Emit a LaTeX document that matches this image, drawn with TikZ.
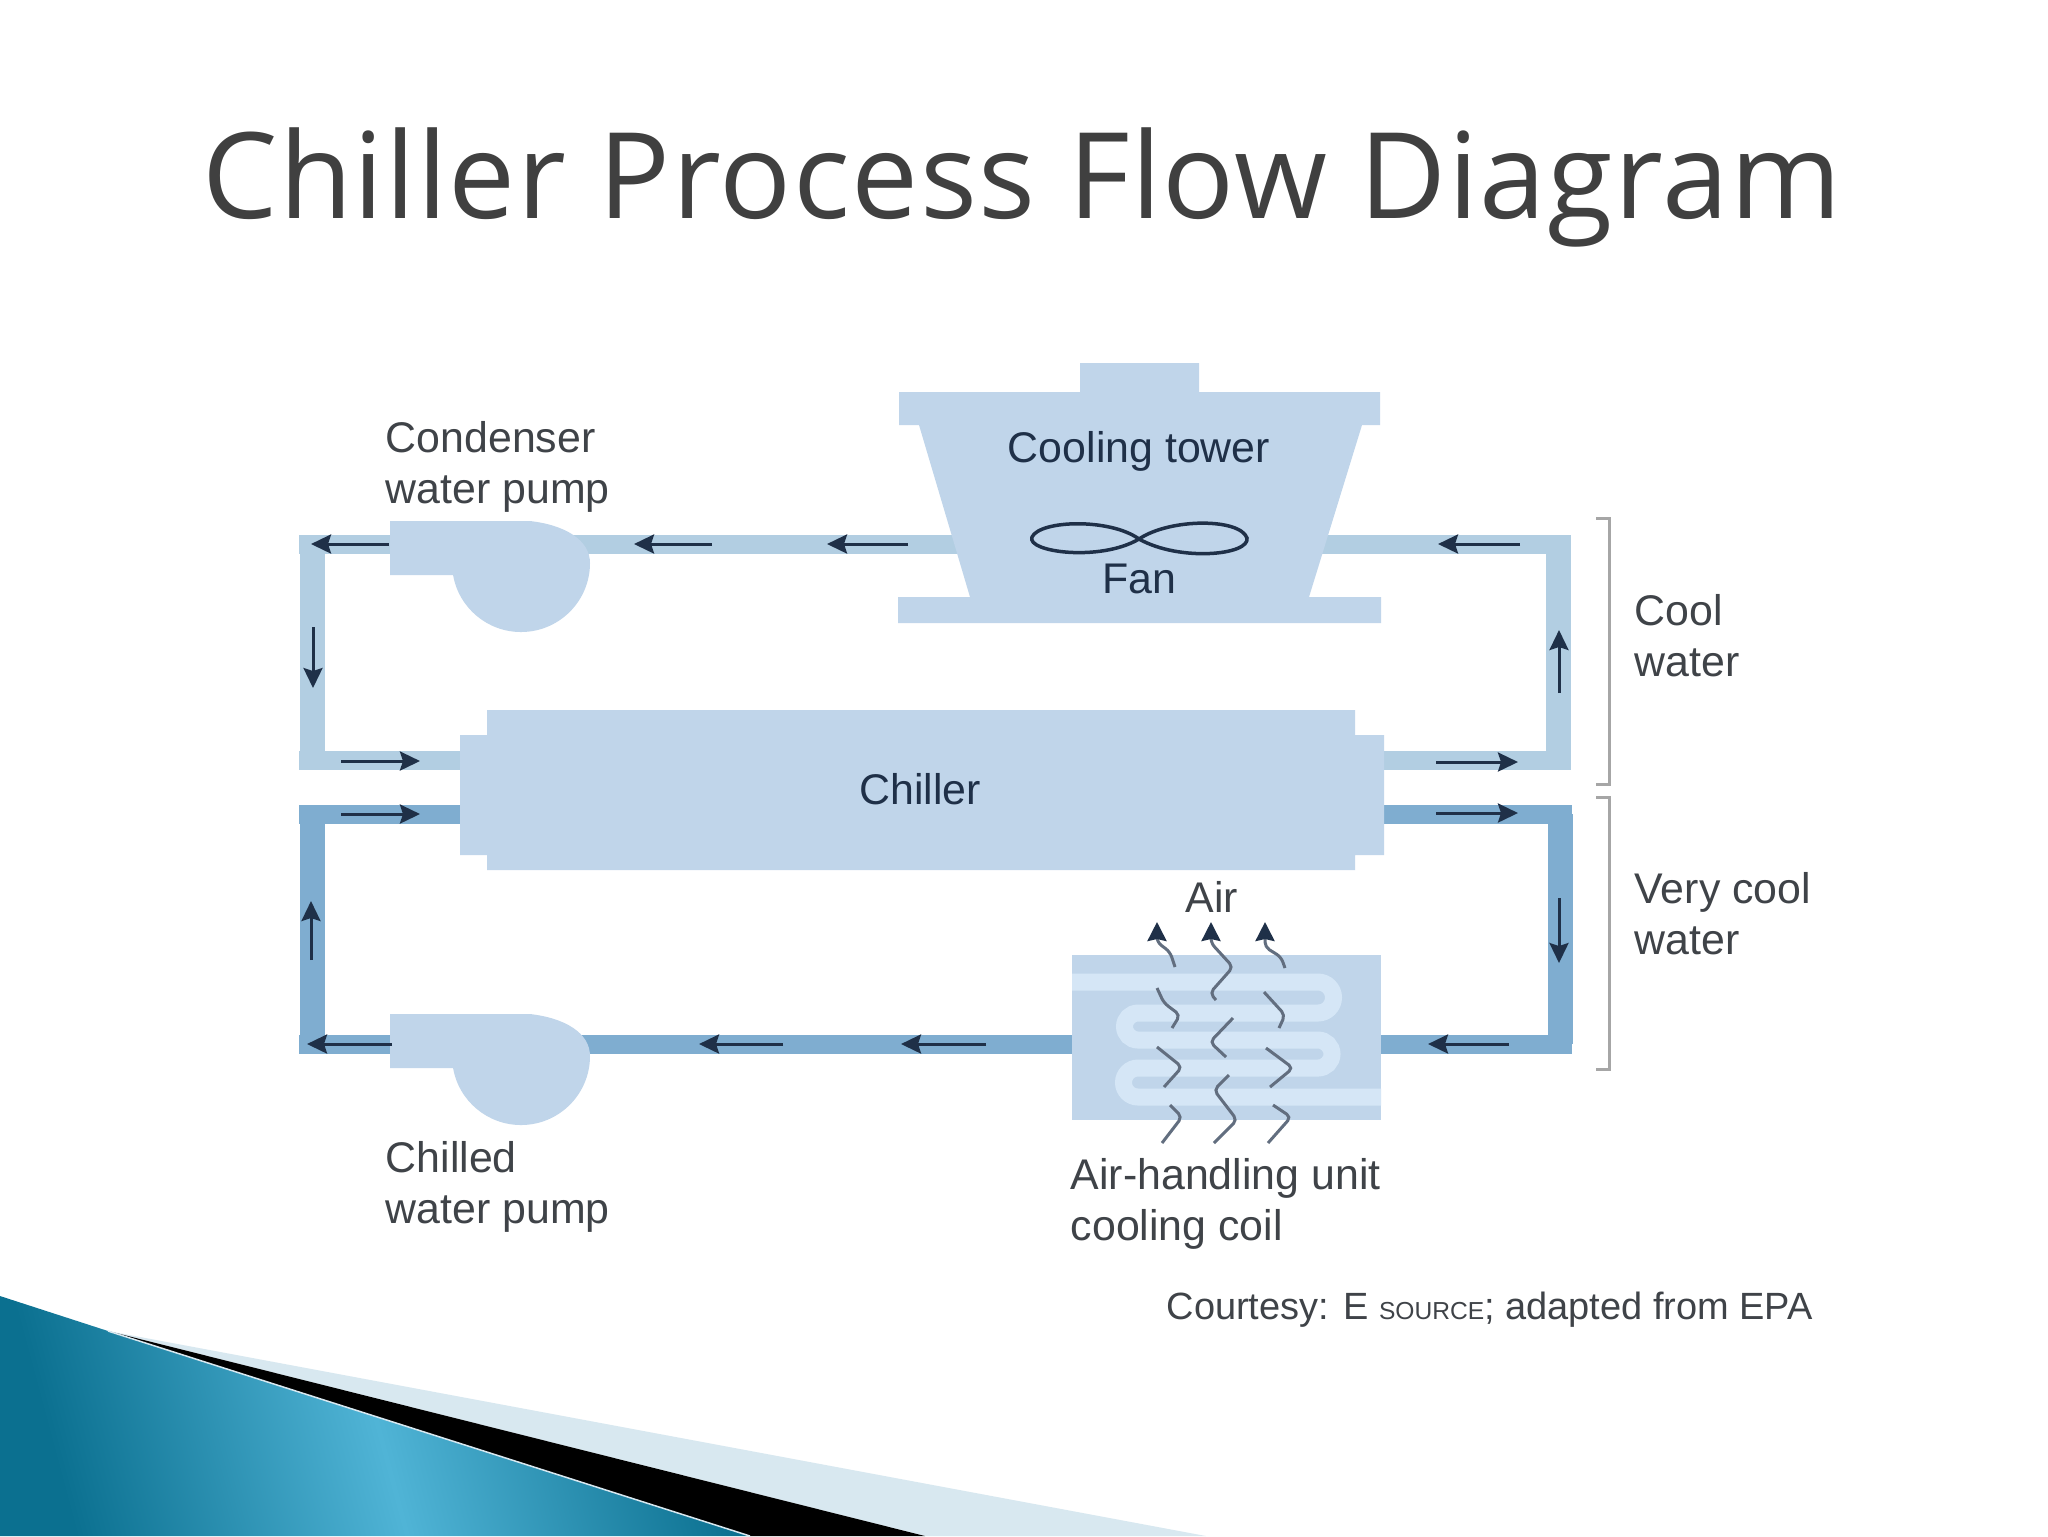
\documentclass[tikz,border=0pt]{standalone}
\usepackage{fontspec}
\setmainfont{Liberation Sans}
\newfontfamily\titlefont[LetterSpace=1.2]{Open Sans}
\usetikzlibrary{arrows.meta}
\definecolor{unitblue}{HTML}{C0D5EA}
\definecolor{coolblue}{HTML}{B2CEE2}
\definecolor{chillblue}{HTML}{7FADD0}
\definecolor{coilblue}{HTML}{D5E6F6}
\definecolor{flowdark}{HTML}{1F3048}
\definecolor{labeldark}{HTML}{3F4348}
\definecolor{tealdark}{HTML}{0B7090}
\definecolor{teallight}{HTML}{50B4D6}
\definecolor{wedgelight}{HTML}{D8E8F0}
\begin{document}
\begin{tikzpicture}[x=0.1mm,y=-0.1mm,
    unit/.style={fill=unitblue, draw=none},
    coolh/.style={draw=coolblue, line width=1.9mm},
    coolv/.style={draw=coolblue, line width=2.5mm},
    chillh/.style={draw=chillblue, line width=1.9mm},
    chillv/.style={draw=chillblue, line width=2.5mm},
    flow/.style={-{Stealth[length=2mm,width=1.9mm,inset=0.3mm]}, draw=flowdark, line width=0.3mm},
    air/.style={draw=flowdark!70, line width=0.3mm, rounded corners=0.5mm},
    airup/.style={air, -{Stealth[length=1.9mm,width=1.9mm,inset=0.2mm,color=flowdark]}},
    bracket/.style={draw=black!35, line width=0.3mm},
    lbl/.style={inner sep=0pt, text=labeldark, align=left, anchor=west, font=\fontsize{12.2}{14.5}\selectfont},
    inlbl/.style={inner sep=0pt, text=flowdark, font=\fontsize{12.2}{14.5}\selectfont}]

  \useasboundingbox (0,0) rectangle (2048,1536);
  \fill[white] (0,0) rectangle (2048,1536);

  % corner wedge
  \fill[wedgelight] (108,1331) -- (1206,1536) -- (925,1536) -- cycle;
  \fill[black] (108,1331) -- (925,1536) -- (750,1536) -- cycle;
  \shade[left color=tealdark, right color=tealdark, middle color=teallight, shading angle=105]
    (0,1296) -- (108,1331) -- (750,1536) -- (0,1536) -- cycle;
  \draw[wedgelight, line width=0.15mm] (108,1331) -- (750,1536);

  \node[inner sep=0pt, anchor=base, text=black!75, font=\titlefont\fontsize{34}{40}\selectfont] (title) at (1022,218) {Chiller Process Flow Diagram};

  % pipe corners
  \coordinate (cwtl) at (312,544);
  \coordinate (cwbl) at (312,760);
  \coordinate (cwtr) at (1558,544);
  \coordinate (cwbr) at (1558,760);
  \coordinate (vctl) at (312,814);
  \coordinate (vcbl) at (312,1044);
  \coordinate (vctr) at (1560,814);
  \coordinate (vcbr) at (1560,1044);

  % pipes
  \draw[coolh] (299,544) -- (1571,544);
  \draw[coolv] (cwtl) -- (cwbl);
  \draw[coolv] (cwtr) -- (cwbr);
  \draw[coolh] (299,760) -- (500,760);
  \draw[coolh] (1350,760) -- (1571,760);
  \draw[chillh] (299,814) -- (500,814);
  \draw[chillh] (1350,814) -- (1572,814);
  \draw[chillv] (vctl) -- (vcbl);
  \draw[chillv] (vctr) -- (vcbr);
  \draw[chillh] (299,1044) -- (1572,1044);

  % cooling tower
  \fill[unit] (1080,363) -- (1199,363) -- (1199,392) -- (1380,392) -- (1380,425) -- (1362,425)
    -- (1309,597) -- (1381,597) -- (1381,623) -- (898,623) -- (898,597) -- (970,597)
    -- (919,425) -- (899,425) -- (899,392) -- (1080,392) -- cycle;
  \draw[draw=flowdark, line width=0.35mm] (1139,539)
    .. controls (1110,518) and (1040,520) .. (1032,537)
    .. controls (1026,552) and (1100,562) .. (1139,539)
    .. controls (1170,518) and (1240,518) .. (1247,538)
    .. controls (1250,555) and (1180,562) .. (1139,539);
  \node[inlbl] (tower) at (1139,451) {Cooling tower};
  \node[inlbl] (fan) at (1139,579) {Fan};

  % chiller
  \fill[unit] (487,710) -- (1355,710) -- (1355,735) -- (1384,735) -- (1384,855) -- (1355,855)
    -- (1355,870) -- (487,870) -- (487,855) -- (460,855) -- (460,735) -- (487,735) -- cycle;
  \node[inlbl] (chiller) at (920,789) {Chiller};

  % pumps
  \foreach \dy in {0, 493} {
    \fill[unit, shift={(0,\dy)}] (390,521) -- (530,521)
      .. controls (565,525) and (590,540) .. (590,563)
      arc[start angle=0, end angle=170, radius=69]
      -- (390,575) -- cycle;
  }

  % air handling unit
  \fill[unit] (1072,955) rectangle (1381,1120);
  \draw[draw=coilblue, line width=1.7mm] (1072,982) -- (1318,982)
    arc[start angle=-90, end angle=90, radius=15.5] -- (1138,1013)
    arc[start angle=270, end angle=90, radius=13.5] -- (1318,1040)
    arc[start angle=-90, end angle=90, radius=14] -- (1138,1068)
    arc[start angle=270, end angle=90, radius=14.5] -- (1381,1097);

  % flow arrows
  \foreach \n/\ax/\ay/\bx/\by in {
      1/389/544/311/544, 2/712/544/634/544, 3/908/544/827/544, 4/1520/544/1438/544,
      5/313/627/313/688, 6/1559/693/1559/630, 7/341/761/420/761, 8/1436/762/1518/762,
      9/341/814/420/814, 10/1436/813/1518/813, 11/1559/898/1559/963, 12/311/960/311/901,
      13/1509/1044/1428/1044, 14/986/1044/901/1044, 15/783/1044/699/1044, 16/392/1044/307/1044} {
    \coordinate (fa\n) at (\ax,\ay);
    \coordinate (fb\n) at (\bx,\by);
    \draw[flow] (fa\n) -- (fb\n);
  }

  % air
  \draw[airup] (1175,967) -- (1170,952) -- (1157,942) -- (1157,922);
  \draw[air] (1157,988) -- (1164,1003) -- (1180,1015) -- (1172,1028);
  \draw[air] (1157,1047) -- (1182,1067) -- (1164,1087);
  \draw[air] (1170,1105) -- (1182,1117) -- (1162,1143);
  \draw[airup] (1216,1000) -- (1210,993) -- (1233,967) -- (1211,943) -- (1211,922);
  \draw[air] (1233,1018) -- (1210,1042) -- (1226,1057);
  \draw[air] (1229,1075) -- (1214,1090) -- (1237,1120) -- (1214,1143);
  \draw[airup] (1285,968) -- (1281,957) -- (1265,947) -- (1265,922);
  \draw[air] (1264,992) -- (1285,1015) -- (1279,1028);
  \draw[air] (1266,1048) -- (1293,1068) -- (1270,1087);
  \draw[air] (1273,1105) -- (1291,1117) -- (1268,1143);

  % brackets
  \draw[bracket] (1596,518) -- (1609,518) -- (1609,784) -- (1596,784);
  \draw[bracket] (1596,797) -- (1609,797) -- (1609,1069) -- (1596,1069);

  % labels
  \node[lbl] (condlbl) at (385,467) {Condenser\\water pump};
  \node[lbl] (chilllbl) at (385,1187) {Chilled\\water pump};
  \node[lbl] (coollbl) at (1634,636) {Cool\\water};
  \node[lbl] (verylbl) at (1634,914) {Very cool\\water};
  \node[lbl] (ahulbl) at (1070,1204) {Air-handling unit\\cooling coil};
  \node[lbl, anchor=center] (airlbl) at (1212,897) {Air};
  \node[lbl, font=\fontsize{10.8}{13}\selectfont] (courtesy) at (1166,1310) {Courtesy: E {\fontsize{7}{10}\selectfont SOURCE}; adapted from EPA};
\end{tikzpicture}
\end{document}
